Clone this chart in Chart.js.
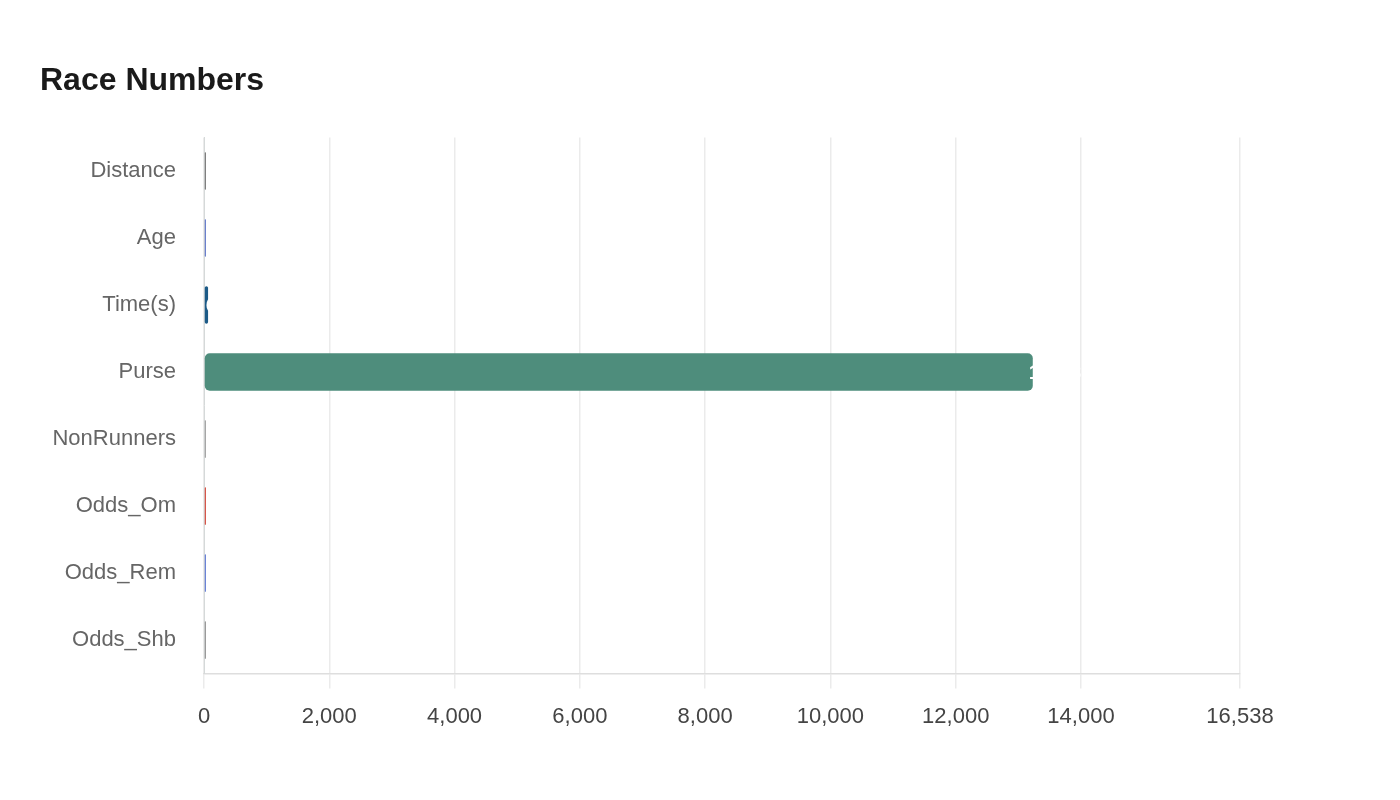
<!DOCTYPE html>
<html>
<head>
<meta charset="utf-8">
<script src="https://cdn.jsdelivr.net/npm/chart.js@4"></script>
<style>
  html, body { margin: 0; padding: 0; background: #fff; }
  #wrap { width: 1400px; height: 800px; }
</style>
</head>
<body>
<div id="wrap"><canvas id="raceChart" width="1400" height="800"></canvas></div>
<script>
const categories = ["Distance", "Age", "Time(s)", "Purse", "NonRunners", "Odds_Om", "Odds_Rem", "Odds_Shb"];
const values = [10, 4, 65, 13230, 1, 5, 6, 7];
const barColors = ['#7f7f7f', '#6b80cc', '#1c5a87', '#4e8d7c', '#a6a6a6', '#d6564a', '#6b83d6', '#9a9a9a'];
const axisMax = 16538;
const tickValues = [0, 2000, 4000, 6000, 8000, 10000, 12000, 14000, 16538];

const fontFamily = '"Liberation Sans", Arial, sans-serif';

// white value labels drawn at the end of each bar
const valueLabels = {
  id: 'valueLabels',
  afterDatasetsDraw(chart) {
    const ctx = chart.ctx;
    const meta = chart.getDatasetMeta(0);
    ctx.save();
    ctx.font = 'bold 21px ' + fontFamily;
    ctx.fillStyle = '#ffffff';
    ctx.textAlign = 'left';
    ctx.textBaseline = 'middle';
    meta.data.forEach((bar, i) => {
      const x = Math.max(bar.x - 4, bar.base + 1);
      ctx.fillText(values[i].toLocaleString('en-US'), x, bar.y + 1);
    });
    ctx.restore();
  }
};

new Chart(document.getElementById('raceChart'), {
  type: 'bar',
  data: {
    labels: categories,
    datasets: [{
      label: 'Race Numbers',
      data: values,
      backgroundColor: barColors,
      borderWidth: 0,
      borderRadius: 5,
      borderSkipped: false,
      minBarLength: 2,
      categoryPercentage: 0.8,
      barPercentage: 0.7
    }]
  },
  options: {
    indexAxis: 'y',
    responsive: false,
    animation: false,
    layout: { padding: { top: 53, left: 40, right: 160, bottom: 55 } },
    plugins: {
      legend: { display: false },
      tooltip: { enabled: false },
      title: {
        display: true,
        text: 'Race Numbers',
        align: 'start',
        color: '#1a1a1a',
        font: { family: fontFamily, size: 32, weight: 'bold' },
        padding: { top: 9, bottom: 37 }
      }
    },
    scales: {
      x: {
        min: 0,
        max: axisMax,
        afterBuildTicks: (scale) => {
          scale.ticks = tickValues.map(v => ({ value: v }));
        },
        grid: { color: '#ebebeb', tickLength: 15, lineWidth: 1.5 },
        border: { color: '#dedede', width: 1.5 },
        ticks: {
          color: '#444',
          padding: 15,
          font: { family: fontFamily, size: 22 }
        }
      },
      y: {
        afterFit: (scale) => { scale.width = 164; },
        grid: { display: false },
        border: { display: true, color: '#d5d9d9', width: 1 },
        ticks: {
          color: '#666',
          padding: 20,
          font: { family: fontFamily, size: 22 }
        }
      }
    }
  },
  plugins: [valueLabels]
});
</script>
</body>
</html>
